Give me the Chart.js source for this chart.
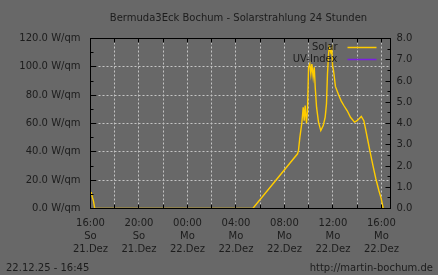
<!DOCTYPE html>
<html><head><meta charset="utf-8">
<script src="https://cdn.jsdelivr.net/npm/chart.js@4"></script>
<style>html,body{margin:0;padding:0;background:#686868;overflow:hidden}canvas{display:block}</style>
</head><body>
<canvas id="c" width="438" height="275"></canvas>
<script>
// ---- data ----
const chartTitle = 'Bermuda3Eck Bochum - Solarstrahlung 24 Stunden';
const footerLeft = '22.12.25 - 16:45';
const footerRight = 'http://martin-bochum.de';
const seriesNames = ['Solar', 'UV-Index'];
// hours since 21.Dez 16:00
const solarHours = [0.05,0.15,0.25,0.35,13.39,17.08,17.16,17.27,17.43,17.55,17.63,17.71,17.82,17.90,17.99,18.09,18.18,18.26,18.37,18.46,18.54,18.65,18.81,19.0,19.2,19.36,19.47,19.55,19.64,19.69,19.83,19.91,19.97,20.05,20.21,20.49,20.68,20.9,21.18,21.45,21.78,22.0,22.34,22.55,22.69,22.88,23.1,23.33,23.54,23.79,23.99,24.15];
const solarValues = [11.5,8,5,0,0,38.6,41,50,60,71.5,62,72.7,60,69,99.7,102,95,102,92.7,99.7,85.6,71.5,61,55,58.5,64.4,74,95,109,113.8,110,112.7,101,97.4,86,79.7,76,72.7,69,64.4,61,62,65,62,56.2,48,38.6,29.2,21,12.7,6.8,0];
const uvHours = [0, 24.75];
const uvValues = [0, 0];
const tickHours = [0, 4, 8, 12, 16, 20, 24];
const tickTimes = ['16:00','20:00','00:00','04:00','08:00','12:00','16:00'];
const tickDays = ['So','So','Mo','Mo','Mo','Mo','Mo'];
const tickDates = ['21.Dez','21.Dez','22.Dez','22.Dez','22.Dez','22.Dez','22.Dez'];
const solarUnit = ' W/qm';
const xMax = 24.75;
const solarMax = 120, solarStep = 20;
const uvMax = 8, uvStep = 1;

// ---- styles ----
const textColor = '#1c1c1c';
const gridColor = '#c4c4c4';
const solarColor = '#ffcc00';
const uvColor = '#7a1fe0';
const FONT = 'DejaVu Sans';
const tickFont = {family: FONT, size: 10, lineHeight: 1.33};

Chart.defaults.font.family = FONT;
Chart.defaults.font.size = 10;
Chart.defaults.color = textColor;

const pts = (xs, ys) => xs.map((x, i) => ({x, y: ys[i]}));

const framePlugin = {
  id: 'frame',
  beforeDatasetsDraw(chart) {
    const {ctx, chartArea: a, scales} = chart;
    ctx.save();
    ctx.strokeStyle = gridColor; ctx.lineWidth = 1; ctx.setLineDash([2, 2]);
    for (let h = 2; h < scales.x.max; h += 2) {
      const px = Math.floor(scales.x.getPixelForValue(h)) + 0.5;
      ctx.beginPath(); ctx.moveTo(px, a.top); ctx.lineTo(px, a.bottom); ctx.stroke();
    }
    for (let v = solarStep; v < solarMax; v += solarStep) {
      const py = Math.floor(scales.y.getPixelForValue(v)) + 0.5;
      ctx.beginPath(); ctx.moveTo(a.left, py); ctx.lineTo(a.right, py); ctx.stroke();
    }
    ctx.restore();
  },
  afterDatasetsDraw(chart) {
    const {ctx, chartArea: a, scales} = chart;
    const L = Math.floor(a.left) + 0.5, R = Math.floor(a.right) + 0.5;
    const T = Math.floor(a.top) + 0.5, B = Math.floor(a.bottom) + 0.5;
    ctx.save();
    ctx.setLineDash([]);
    ctx.strokeStyle = '#000'; ctx.lineWidth = 1;
    ctx.strokeRect(L, T, R - L, B - T);
    ctx.beginPath();
    for (let h = 2; h < scales.x.max; h += 2) {
      const px = Math.floor(scales.x.getPixelForValue(h)) + 0.5;
      ctx.moveTo(px, B); ctx.lineTo(px, B - 4);
      ctx.moveTo(px, T); ctx.lineTo(px, T + 4);
    }
    for (let v = 10; v < solarMax; v += 10) {
      const py = Math.floor(scales.y.getPixelForValue(v)) + 0.5;
      const len = (v % solarStep === 0) ? 6 : 3;
      ctx.moveTo(L, py); ctx.lineTo(L + len, py);
    }
    for (let v = 0.5; v < uvMax; v += 0.5) {
      const py = Math.floor(scales.y1.getPixelForValue(v)) + 0.5;
      const len = (v % uvStep === 0) ? 5 : 3;
      ctx.moveTo(R, py); ctx.lineTo(R - len, py);
    }
    ctx.stroke();
    ctx.font = '10px "' + FONT + '"';
    ctx.fillStyle = textColor;
    ctx.textBaseline = 'middle';
    // y axis labels (left and right)
    ctx.textAlign = 'right';
    for (let v = 0; v <= solarMax; v += solarStep) {
      ctx.fillText(v.toFixed(1) + solarUnit, a.left - 10, scales.y.getPixelForValue(v));
    }
    ctx.textAlign = 'left';
    for (let v = 0; v <= uvMax; v += uvStep) {
      ctx.fillText(v.toFixed(1), a.right + 6, scales.y1.getPixelForValue(v));
    }
    // legend
    ctx.textAlign = 'right';
    chart.data.datasets.forEach((ds, i) => {
      const y = Math.floor(a.top + 8.5 + i * 12.5) + 0.5;
      ctx.fillStyle = textColor;
      ctx.fillText(ds.label, a.right - 53, y);
      ctx.strokeStyle = ds.borderColor; ctx.lineWidth = 1.5;
      ctx.beginPath(); ctx.moveTo(a.right - 43, y); ctx.lineTo(a.right - 14, y); ctx.stroke();
    });
    // title & footer
    ctx.fillStyle = textColor;
    ctx.textAlign = 'center';
    ctx.fillText(chartTitle, (a.left + a.right) / 2 - 2, 18);
    ctx.textAlign = 'left';
    ctx.fillText(footerLeft, 6, 268);
    ctx.textAlign = 'right';
    ctx.fillText(footerRight, 433, 268);
    ctx.restore();
  }
};

new Chart(document.getElementById('c'), {
  type: 'line',
  data: {
    datasets: [
      {label: seriesNames[0], data: pts(solarHours, solarValues), yAxisID: 'y', borderColor: solarColor, borderWidth: 1.4, pointRadius: 0, tension: 0},
      {label: seriesNames[1], data: pts(uvHours, uvValues), yAxisID: 'y1', borderColor: uvColor, borderWidth: 1, pointRadius: 0, tension: 0}
    ]
  },
  options: {
    responsive: false, animation: false,
    layout: {padding: {top: 38.5, left: 0, right: 0, bottom: 0}},
    plugins: {legend: {display: false}, tooltip: {enabled: false}, title: {display: false}},
    scales: {
      x: {
        type: 'linear', position: 'bottom', min: 0, max: xMax,
        grid: {display: false, drawTicks: false}, border: {display: false},
        afterBuildTicks: s => { s.ticks = tickHours.map(v => ({value: v})); },
        ticks: {
          autoSkip: false, maxRotation: 0, padding: 8, color: textColor, font: tickFont,
          callback: (v) => { const i = tickHours.indexOf(v); return [tickTimes[i], tickDays[i], tickDates[i]]; }
        },
        afterFit: s => { s.height = 66.5; }
      },
      y: {
        position: 'left', min: 0, max: solarMax,
        grid: {display: false, drawTicks: false}, border: {display: false},
        ticks: {display: false, stepSize: solarStep},
        afterFit: s => { s.width = 90.5; }
      },
      y1: {
        position: 'right', min: 0, max: uvMax,
        grid: {display: false, drawTicks: false}, border: {display: false},
        ticks: {display: false, stepSize: uvStep},
        afterFit: s => { s.width = 47.5; }
      }
    }
  },
  plugins: [framePlugin]
});
</script>
</body></html>
